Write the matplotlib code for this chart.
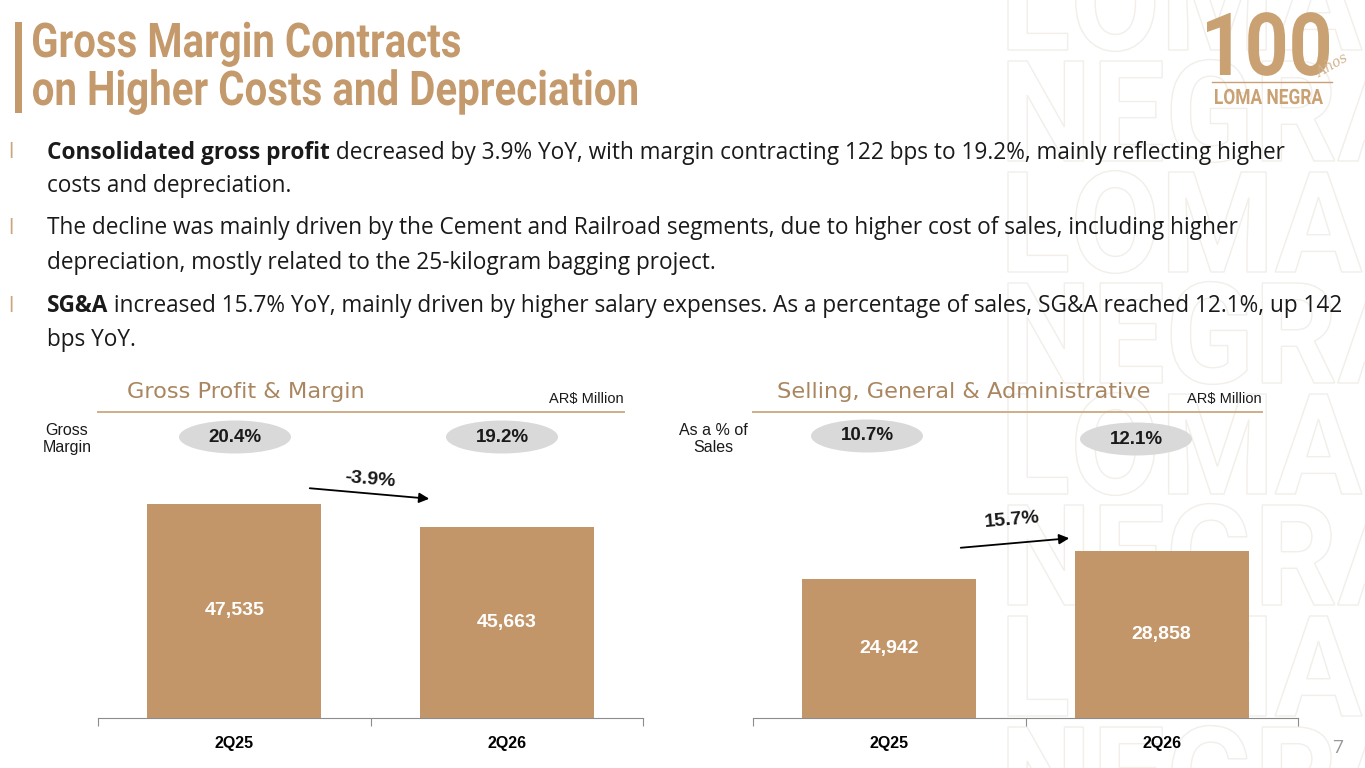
import matplotlib
matplotlib.use('Agg')
import matplotlib.pyplot as plt
from matplotlib.patches import Ellipse, Rectangle, PathPatch, FancyArrowPatch
from matplotlib.textpath import TextPath
from matplotlib.font_manager import FontProperties
from matplotlib.transforms import Affine2D

# data
quarters = ['2Q25', '2Q26']
gross_profit = [47535, 45663]
gross_margin = ['20.4%', '19.2%']
gp_change = '-3.9%'
sga = [24942, 28858]
sga_pct_sales = ['10.7%', '12.1%']
sga_change = '15.7%'

title_lines = ['Gross Margin Contracts', 'on Higher Costs and Depreciation']
bullets = [
    [[('Consolidated gross profit', 'bold'),
      (' decreased by 3.9% YoY, with margin contracting 122 bps to 19.2%, mainly reflecting higher', 'normal')],
     [('costs and depreciation.', 'normal')]],
    [[('The decline was mainly driven by the Cement and Railroad segments, due to higher cost of sales, including higher', 'normal')],
     [('depreciation, mostly related to the 25-kilogram bagging project.', 'normal')]],
    [[('SG&A', 'bold'),
      (' increased 15.7% YoY, mainly driven by higher salary expenses. As a percentage of sales, SG&A reached 12.1%, up 142', 'normal')],
     [('bps YoY.', 'normal')]],
]

W, H = 1365, 768
BROWN = '#C49A6C'
LOGO = '#C9A173'
BAR = '#C29668'
LINE = '#CDAE88'
HEAD = '#A9865F'
GREY = '#D9D9D9'
arial = ['Liberation Sans', 'DejaVu Sans']
body = ['Open Sans', 'Noto Sans', 'DejaVu Sans']
bold_prop = FontProperties(family='Roboto', weight='bold')

fig = plt.figure(figsize=(W / 100, H / 100), dpi=100)
fig.patch.set_facecolor('white')


def fx(x):
    return x / W


def fy(y):
    return 1 - y / H


def path_text(s, x, base, cap_px, width_px=None, sx_ratio=None, **kw):
    # text drawn as a path so it can be squeezed sideways (condensed look)
    tp = TextPath((0, 0), s, size=100, prop=bold_prop)
    cap = TextPath((0, 0), 'H', size=100, prop=bold_prop).get_extents().height
    ext = tp.get_extents()
    sy = cap_px / cap
    if width_px is not None:
        sx = width_px / ext.width
    else:
        sx = sy * (sx_ratio or 1.0)
    tr = Affine2D().translate(-ext.x0, 0).scale(sx, sy).translate(x, H - base)
    fig.add_artist(PathPatch(tp, transform=tr, **kw))
    return sx / sy


# faint watermark on the right
wm_rows = ['LOMA', 'NEGRA', 'LOMA', 'NEGRA', 'LOMA', 'NEGRA', 'LOMA', 'NEGRA']
ratio = None
for i, word in enumerate(wm_rows):
    base = 50 + i * 111
    if ratio is None:
        ratio = path_text(word, 1008, base, 100, width_px=354, facecolor='none',
                          edgecolor='#F2EEE9', lw=1.0, zorder=-5)
    else:
        path_text(word, 1008, base, 100, sx_ratio=ratio, facecolor='none',
                  edgecolor='#F2EEE9', lw=1.0, zorder=-5)

# title
fig.add_artist(Rectangle((fx(15), fy(113)), 7 / W, 91 / H, transform=fig.transFigure,
                         color=BROWN, lw=0))
path_text(title_lines[0], 33, 57, 34, width_px=427, color=BROWN, lw=0)
path_text(title_lines[1], 33, 105, 34, width_px=604, color=BROWN, lw=0)

# logo
path_text('100', 1207, 75, 62, width_px=122, color=LOGO, lw=0)
fig.text(fx(1332), fy(66), 'Años', fontsize=10, family=['DejaVu Serif'], style='italic',
         color='#D2B38F', ha='center', va='center', rotation=30)
fig.add_artist(plt.Line2D([fx(1212), fx(1332)], [fy(82), fy(82)], transform=fig.transFigure,
                          color=LOGO, lw=1))
path_text('LOMA NEGRA', 1215, 104, 15, width_px=108, color=LOGO, lw=0)

# bullets
renderer = fig.canvas.get_renderer()
line_y = [[153, 186], [228, 263], [306, 340]]
for b, ys in zip(bullets, line_y):
    fig.text(fx(8), fy(ys[0]), 'l', fontsize=15, family=body, color='#C9A77E', va='center')
    for line, y in zip(b, ys):
        x = 47
        for txt, weight in line:
            t = fig.text(fx(x), fy(y), txt, fontsize=16.3, family=body, fontweight=weight,
                         color='#1a1a1a', va='center')
            x += t.get_window_extent(renderer).width

# charts
panels = [
    dict(x0=98, x1=643, vals=gross_profit, ylim=(30118, 51111), title='Gross Profit & Margin',
         title_x=127, rule_x1=624, side='Gross\nMargin', side_x=67, pcts=gross_margin,
         ell=[(235, 437), (502, 437)], change=gp_change,
         arrow=((307, 488), (432, 499)), change_xy=(370, 480), rot=-5),
    dict(x0=753, x1=1298, vals=sga, ylim=(5502, 41585), title='Selling, General & Administrative',
         title_x=777, rule_x1=1262, side='As a % of\nSales', side_x=713, pcts=sga_pct_sales,
         ell=[(867, 436), (1136, 439)], change=sga_change,
         arrow=((958, 548), (1072, 538)), change_xy=(1012, 520), rot=5),
]

bottom, top = 718, 460
for p in panels:
    ax = fig.add_axes([fx(p['x0']), fy(bottom), (p['x1'] - p['x0']) / W, (bottom - top) / H])
    ax.set_facecolor('none')
    xs = range(len(quarters))
    ax.bar(xs, p['vals'], width=0.64, color=BAR, zorder=2)
    ax.set_xlim(-0.5, len(quarters) - 0.5)
    ax.set_ylim(*p['ylim'])
    lo = p['ylim'][0]
    for i, v in enumerate(p['vals']):
        ax.text(i, (lo + v) / 2, f'{v:,}', ha='center', va='center', color='white',
                fontsize=14, fontweight='bold', family=arial, zorder=3)
    for s in ['top', 'right', 'left']:
        ax.spines[s].set_visible(False)
    ax.spines['bottom'].set_color('#8c8c8c')
    ax.set_yticks([])
    ax.set_xticks([-0.5, 0.5, 1.5])
    ax.set_xticklabels([])
    ax.tick_params(axis='x', which='major', length=6, color='#8c8c8c')
    ax.set_xticks(list(xs), minor=True)
    ax.set_xticklabels(quarters, minor=True, fontsize=11.5, fontweight='bold', family=arial)
    ax.tick_params(axis='x', which='minor', length=0, pad=13)

    # header and rule
    fig.text(fx(p['title_x']), fy(392), p['title'], fontsize=16.2, family=['DejaVu Sans'],
             color=HEAD, va='center')
    fig.add_artist(plt.Line2D([fx(p['x0']), fx(p['rule_x1'])], [fy(412), fy(412)],
                              transform=fig.transFigure, color=LINE, lw=1.4))
    fig.text(fx(p['rule_x1']), fy(399), 'AR$ Million', fontsize=10.5, family=arial,
             color='#1a1a1a', ha='right', va='center')
    fig.text(fx(p['side_x']), fy(439), p['side'], fontsize=11.5, family=arial, color='#1a1a1a',
             ha='center', va='center', linespacing=1.15)
    for (ex, ey), label in zip(p['ell'], p['pcts']):
        fig.add_artist(Ellipse((fx(ex), fy(ey)), 112 / W, 33 / H, transform=fig.transFigure,
                               color=GREY, lw=0))
        fig.text(fx(ex), fy(ey), label, fontsize=13.5, fontweight='bold', family=arial,
                 color='#1a1a1a', ha='center', va='center')
    (ax0, ay0), (ax1, ay1) = p['arrow']
    fig.add_artist(FancyArrowPatch(
        (fx(ax0), fy(ay0)), (fx(ax1), fy(ay1)), transform=fig.transFigure,
        arrowstyle='-|>,head_length=6,head_width=3', color='black', lw=1.3))
    fig.text(fx(p['change_xy'][0]), fy(p['change_xy'][1]), p['change'], fontsize=14,
             fontweight='bold', family=arial, color='#1a1a1a', ha='center', va='center',
             rotation=p['rot'])

fig.text(fx(1338), fy(748), '7', fontsize=14, family=body, color='#999999',
         ha='center', va='center')

fig.savefig('out.png', dpi=100)
